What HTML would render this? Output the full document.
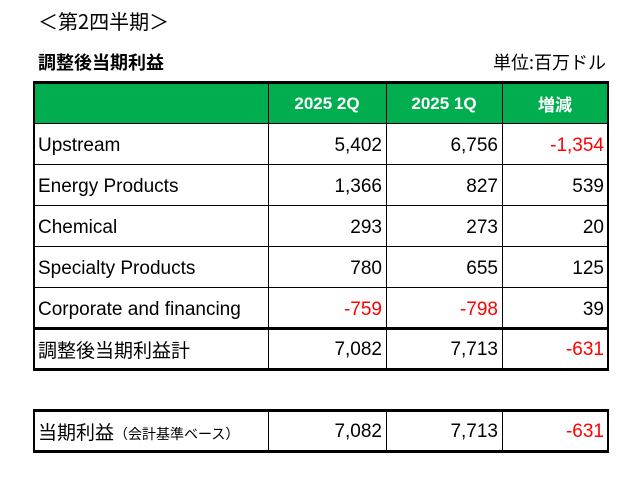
<!DOCTYPE html>
<html><head><meta charset="utf-8"><style>
body{margin:0;width:623px;height:493px;background:#fff;position:relative;overflow:hidden;font-family:"Liberation Sans","Noto Sans CJK JP",sans-serif;color:#000}
.a{position:absolute}
.c{position:absolute;box-sizing:border-box;font-size:19px;line-height:44px;white-space:nowrap}
.l{padding-left:5px}
.r{text-align:right;padding-right:4px}
.red{color:#f00}
.h{color:#fff;font-weight:bold;text-align:center;font-size:17px;line-height:42px}
.hl{position:absolute;background:#000}
</style></head><body>
<div class="a" style="left:38px;top:8px;font-size:20px;line-height:26px;font-family:'Noto Sans CJK JP',sans-serif">＜第2四半期＞</div>
<div class="a" style="left:38px;top:50px;font-size:18px;line-height:24px;font-weight:bold;font-family:'Noto Sans CJK JP',sans-serif">調整後当期利益</div>
<div class="a" style="right:17px;top:50px;font-size:18px;line-height:24px;font-family:'Noto Sans CJK JP',sans-serif">単位:百万ドル</div>

<div class="a" style="left:34px;top:83px;width:574px;height:41px;background:#00ad4f"></div>
<div class="hl" style="left:33px;top:81px;width:576px;height:3px"></div>
<div class="hl" style="left:33px;top:123px;width:576px;height:1px"></div>
<div class="hl" style="left:33px;top:164px;width:576px;height:1px"></div>
<div class="hl" style="left:33px;top:205px;width:576px;height:1px"></div>
<div class="hl" style="left:33px;top:246px;width:576px;height:1px"></div>
<div class="hl" style="left:33px;top:287px;width:576px;height:1px"></div>
<div class="hl" style="left:33px;top:327px;width:576px;height:3px"></div>
<div class="hl" style="left:33px;top:368px;width:576px;height:3px"></div>
<div class="hl" style="left:33px;top:81px;width:2px;height:290px"></div>
<div class="hl" style="left:607px;top:81px;width:2px;height:290px"></div>
<div class="hl" style="left:268px;top:81px;width:1px;height:290px"></div>
<div class="hl" style="left:386px;top:81px;width:1px;height:290px"></div>
<div class="hl" style="left:502px;top:81px;width:1px;height:290px"></div>

<div class="c h" style="left:268px;top:83px;width:118px">2025 2Q</div>
<div class="c h" style="left:386px;top:83px;width:116px">2025 1Q</div>
<div class="c h" style="left:502px;top:83px;width:106px;font-family:'Noto Sans CJK JP',sans-serif">増減</div>

<div class="c l" style="left:33px;top:124px">Upstream</div>
<div class="c r" style="left:268px;top:124px;width:118px">5,402</div>
<div class="c r" style="left:386px;top:124px;width:116px">6,756</div>
<div class="c r red" style="left:502px;top:124px;width:106px">-1,354</div>

<div class="c l" style="left:33px;top:165px">Energy Products</div>
<div class="c r" style="left:268px;top:165px;width:118px">1,366</div>
<div class="c r" style="left:386px;top:165px;width:116px">827</div>
<div class="c r" style="left:502px;top:165px;width:106px">539</div>

<div class="c l" style="left:33px;top:206px">Chemical</div>
<div class="c r" style="left:268px;top:206px;width:118px">293</div>
<div class="c r" style="left:386px;top:206px;width:116px">273</div>
<div class="c r" style="left:502px;top:206px;width:106px">20</div>

<div class="c l" style="left:33px;top:247px">Specialty Products</div>
<div class="c r" style="left:268px;top:247px;width:118px">780</div>
<div class="c r" style="left:386px;top:247px;width:116px">655</div>
<div class="c r" style="left:502px;top:247px;width:106px">125</div>

<div class="c l" style="left:33px;top:288px">Corporate and financing</div>
<div class="c r red" style="left:268px;top:288px;width:118px">-759</div>
<div class="c r red" style="left:386px;top:288px;width:116px">-798</div>
<div class="c r" style="left:502px;top:288px;width:106px">39</div>

<div class="c l" style="left:33px;top:328px;font-family:'Noto Sans CJK JP',sans-serif">調整後当期利益計</div>
<div class="c r" style="left:268px;top:328px;width:118px">7,082</div>
<div class="c r" style="left:386px;top:328px;width:116px">7,713</div>
<div class="c r red" style="left:502px;top:328px;width:106px">-631</div>

<div class="hl" style="left:33px;top:409px;width:576px;height:3px"></div>
<div class="hl" style="left:33px;top:450px;width:576px;height:3px"></div>
<div class="hl" style="left:33px;top:409px;width:2px;height:44px"></div>
<div class="hl" style="left:607px;top:409px;width:2px;height:44px"></div>
<div class="hl" style="left:268px;top:409px;width:1px;height:44px"></div>
<div class="hl" style="left:386px;top:409px;width:1px;height:44px"></div>
<div class="hl" style="left:502px;top:409px;width:1px;height:44px"></div>

<div class="c l" style="left:33px;top:410px;font-family:'Noto Sans CJK JP',sans-serif">当期利益<span style="font-size:14px">（会計基準ベース）</span></div>
<div class="c r" style="left:268px;top:410px;width:118px">7,082</div>
<div class="c r" style="left:386px;top:410px;width:116px">7,713</div>
<div class="c r red" style="left:502px;top:410px;width:106px">-631</div>
</body></html>
